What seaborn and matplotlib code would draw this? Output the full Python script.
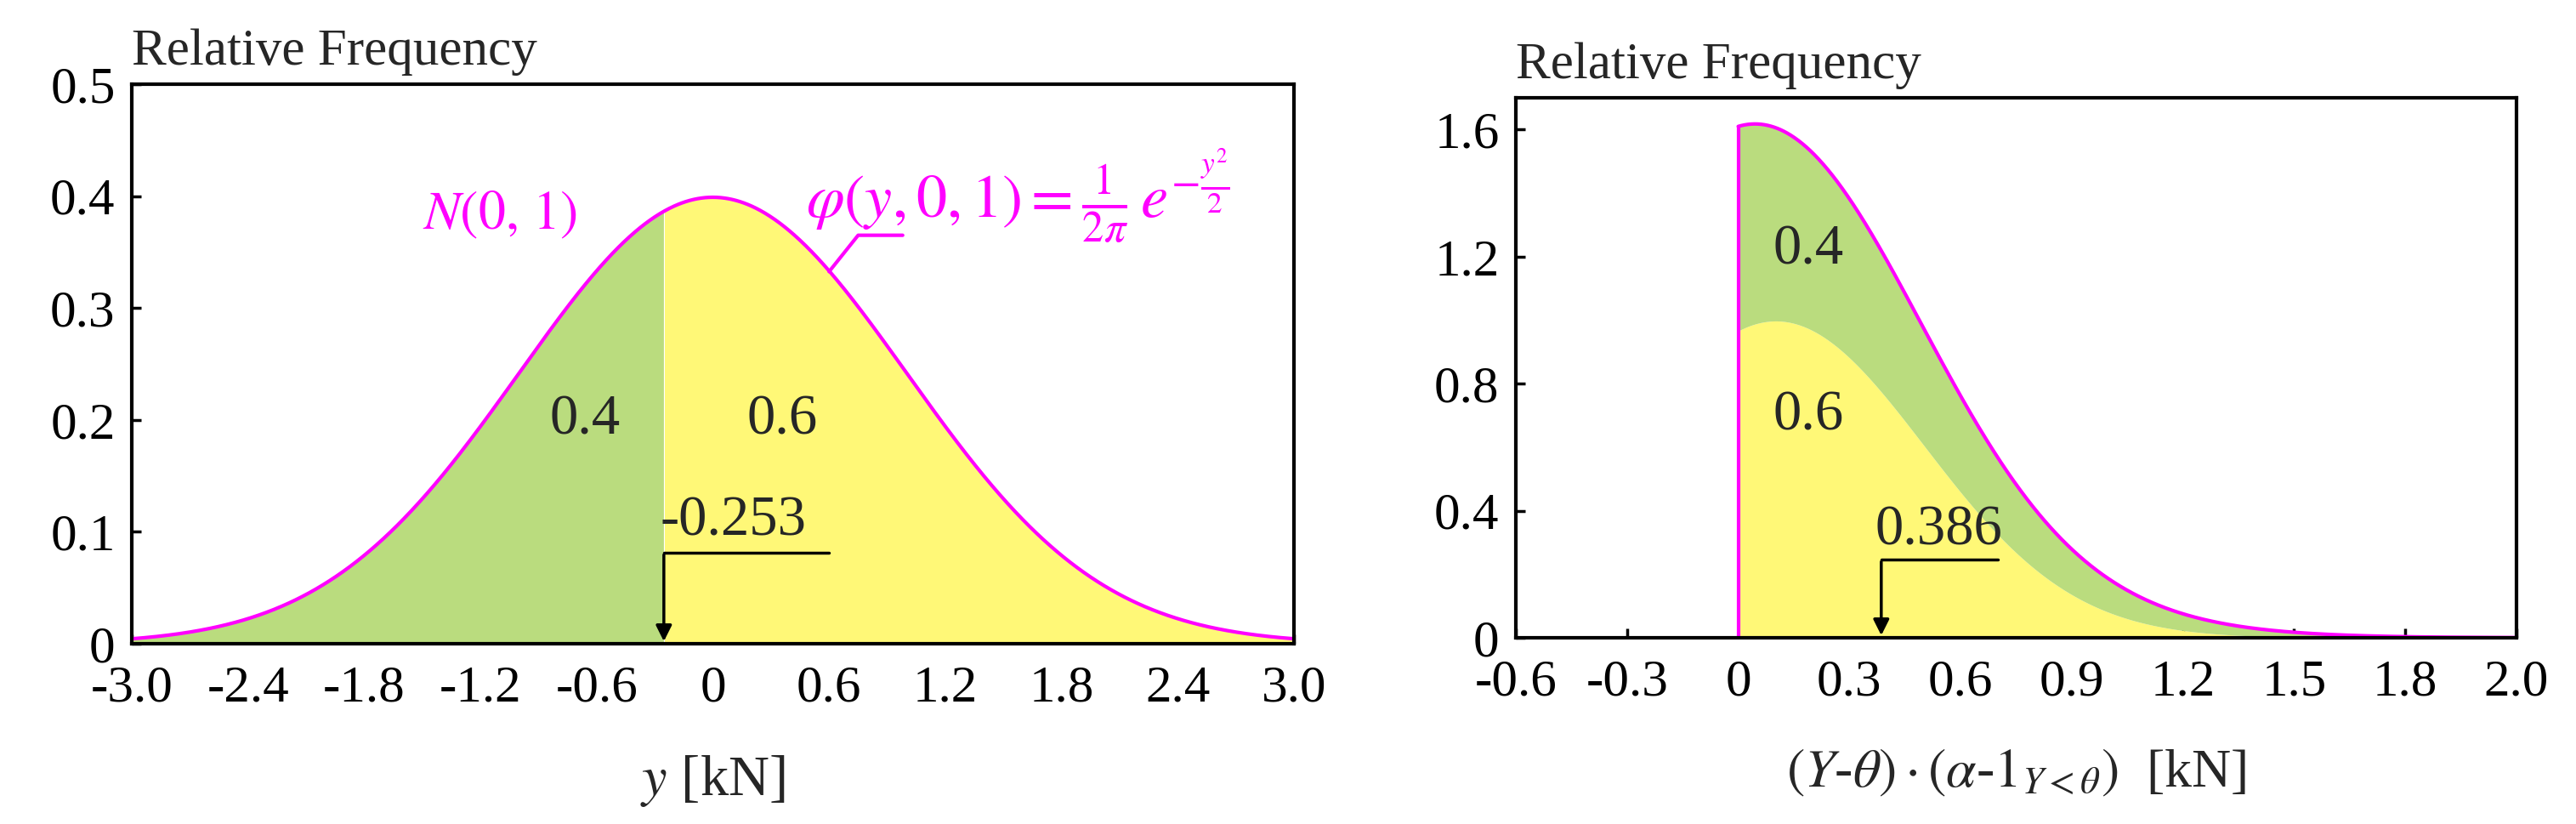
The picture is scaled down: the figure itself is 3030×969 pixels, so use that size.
import numpy as np
import pandas as pd
import matplotlib
matplotlib.use("Agg")
import matplotlib.pyplot as plt
import seaborn as sns

# ---- data ----
theta = -0.253          # 0.4-quantile of N(0,1)
alpha = 0.4
left_xticks = [-3.0, -2.4, -1.8, -1.2, -0.6, 0, 0.6, 1.2, 1.8, 2.4, 3.0]
left_xlabels = ["-3.0", "-2.4", "-1.8", "-1.2", "-0.6", "0", "0.6", "1.2", "1.8", "2.4", "3.0"]
left_yticks = [0, 0.1, 0.2, 0.3, 0.4, 0.5]
left_ylabels = ["0", "0.1", "0.2", "0.3", "0.4", "0.5"]
right_xticks = [-0.6, -0.3, 0, 0.3, 0.6, 0.9, 1.2, 1.5, 1.8, 2.1]
right_xlabels = ["-0.6", "-0.3", "0", "0.3", "0.6", "0.9", "1.2", "1.5", "1.8", "2.0"]
right_yticks = [0, 0.4, 0.8, 1.2, 1.6]
right_ylabels = ["0", "0.4", "0.8", "1.2", "1.6"]
loss_quantile = 0.386

def phi(x):
    return np.exp(-x**2 / 2) / np.sqrt(2 * np.pi)

sns.set_theme(style="white")
plt.rcParams["font.family"] = ["Liberation Serif", "DejaVu Serif"]
plt.rcParams["mathtext.fontset"] = "stix"

GREEN = "#badc7e"
YELLOW = "#fff877"
MAG = "#ff00ff"
FS = 44

fig = plt.figure(figsize=(30.30, 9.69), dpi=100)
axL = fig.add_axes([155/3030, 1 - 757/969, (1522-155)/3030, (757-99)/969])
axR = fig.add_axes([1783/3030, 1 - 750/969, (2960-1783)/3030, (750-115)/969])

# ---- left ----
y = np.linspace(-3, 3, 1201)
df = pd.DataFrame({"y": y, "pdf": phi(y)})
axL.fill_between(y, 0, df.pdf, where=y <= theta, color=GREEN, lw=0)
axL.fill_between(y, 0, df.pdf, where=y >= theta, color=YELLOW, lw=0)
sns.lineplot(data=df, x="y", y="pdf", ax=axL, color=MAG, lw=3)
axL.set_xlim(-3, 3)
axL.set_ylim(0, 0.5)
axL.set_xticks(left_xticks, left_xlabels)
axL.set_yticks(left_yticks, left_ylabels)
axL.set_xlabel(r"$y$ [kN]", fontsize=FS+4, labelpad=35)
axL.set_ylabel("")
axL.text(0.0, 1.015, "Relative Frequency", transform=axL.transAxes, fontsize=FS, ha="left", va="bottom")
axL.text(-1.1, 0.383, r"$N(0,\,1)$", color=MAG, fontsize=FS+2, ha="center", va="center")
axL.text(0.48, 0.40, r"$\varphi(y,0,1)=\frac{1}{2\pi}\,e^{-\frac{y^2}{2}}$", color=MAG, fontsize=FS+8, ha="left", va="center")
axL.plot([0.6, 0.75, 0.98], [0.3325, 0.365, 0.365], color=MAG, lw=3)
axL.text(-0.66, 0.2, "0.4", fontsize=FS+4, ha="center", va="center")
axL.text(0.36, 0.2, "0.6", fontsize=FS+4, ha="center", va="center")
axL.plot([theta, 0.6], [0.0816, 0.0816], color="black", lw=2.5)
axL.annotate("", xy=(theta, 0), xytext=(theta, 0.0816),
             arrowprops=dict(arrowstyle="-|>", color="black", lw=2.5, mutation_scale=28))
axL.text(-0.27, 0.086, "-0.253", fontsize=FS+4, ha="left", va="bottom")

# ---- right ----
l = np.linspace(0, 2.1, 1201)
upper_part = phi(theta + l / alpha) / alpha              # Y > theta, prob 0.6
lower_part = phi(theta - l / (1 - alpha)) / (1 - alpha)  # Y < theta, prob 0.4
total = upper_part + lower_part
dR = pd.DataFrame({"l": l, "total": total})
axR.fill_between(l, 0, upper_part, color=YELLOW, lw=0)
axR.fill_between(l, upper_part, total, color=GREEN, lw=0)
sns.lineplot(data=dR, x="l", y="total", ax=axR, color=MAG, lw=3)
axR.plot([0, 0], [0, total[0]], color=MAG, lw=3)
axR.set_xlim(-0.6, 2.1)
axR.set_ylim(0, 1.7)
axR.set_xticks(right_xticks, right_xlabels)
axR.set_yticks(right_yticks, right_ylabels)
axR.set_xlabel(r"$(Y$-$\theta)\cdot(\alpha$-$1_{Y<\theta})$  [kN]", fontsize=FS+2, labelpad=35)
axR.set_ylabel("")
axR.text(0.0, 1.015, "Relative Frequency", transform=axR.transAxes, fontsize=FS, ha="left", va="bottom")
axR.text(0.19, 1.22, "0.4", fontsize=FS+4, ha="center", va="center")
axR.text(0.19, 0.7, "0.6", fontsize=FS+4, ha="center", va="center")
axR.plot([loss_quantile, 0.7], [0.247, 0.247], color="black", lw=2.5)
axR.annotate("", xy=(loss_quantile, 0), xytext=(loss_quantile, 0.247),
             arrowprops=dict(arrowstyle="-|>", color="black", lw=2.5, mutation_scale=28))
axR.text(0.37, 0.255, "0.386", fontsize=FS+4, ha="left", va="bottom")

for ax in (axL, axR):
    for s in ax.spines.values():
        s.set_color("black")
        s.set_linewidth(3)
    ax.tick_params(direction="in", length=8, width=2.5, labelsize=FS, colors="black",
                   bottom=True, left=True)
    ax.tick_params(axis="x", pad=18)
    ax.tick_params(axis="y", pad=14)

fig.savefig("out.png", dpi=100)
